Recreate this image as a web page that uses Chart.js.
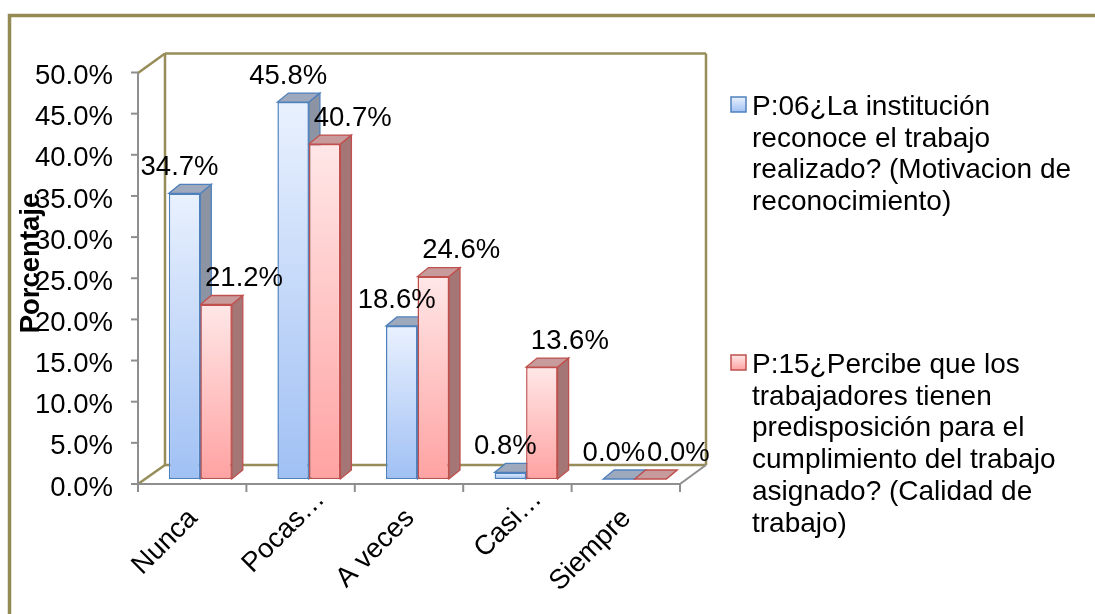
<!DOCTYPE html>
<html>
<head>
<meta charset="utf-8">
<script src="https://cdn.jsdelivr.net/npm/chart.js@4.4.0/dist/chart.umd.min.js"></script>
<style>
  html, body { margin: 0; padding: 0; background: #fff; }
  canvas { display: block; }
</style>
</head>
<body>
<canvas id="chart" width="1095" height="614"></canvas>
<script>
// data
var categories = ['Nunca', 'Pocas…', 'A veces', 'Casi…', 'Siempre'];
var p06Values = [34.7, 45.8, 18.6, 0.8, 0.0];
var p15Values = [21.2, 40.7, 24.6, 13.6, 0.0];
var p06Name = ['P:06¿La institución', 'reconoce el trabajo', 'realizado? (Motivacion de', 'reconocimiento)'];
var p15Name = ['P:15¿Percibe que los', 'trabajadores tienen', 'predisposición para el', 'cumplimiento del trabajo', 'asignado? (Calidad de', 'trabajo)'];
var yMin = 0, yMax = 50, yStep = 5;
var yTitle = 'Porcentaje';

// look
var fontFamily = '"Liberation Sans", Arial, sans-serif';
var fontSize = 27.5;
var olive = '#978d59';
var axisGray = '#8e8e8e';
var depthX = 11, depthY = -9;

var blueStyle = { border: '#4f81bd', light: '#e9f1fe', dark: '#a0c0f4', top: '#9ea9bd', side: '#8c94a3', labelShift: -5, legendY: 115 };
var redStyle = { border: '#c0504d', light: '#ffe7e7', dark: '#ffa2a2', top: '#c79b9b', side: '#a57676', labelShift: 28, legendY: 373 };

function barGradient(st) {
    return function (context) {
        var chart = context.chart;
        if (!chart.chartArea || context.type !== 'data') return st.dark;
        var y = chart.scales.y;
        var top = y.getPixelForValue(context.raw);
        var bottom = y.getPixelForValue(0);
        if (bottom - top < 1) return st.light;
        var g = chart.ctx.createLinearGradient(0, top, 0, bottom);
        g.addColorStop(0, st.light);
        g.addColorStop(1, st.dark);
        return g;
    };
}

function poly(ctx, pts, fill, stroke) {
    ctx.beginPath();
    ctx.moveTo(pts[0][0], pts[0][1]);
    for (var i = 1; i < pts.length; i++) ctx.lineTo(pts[i][0], pts[i][1]);
    ctx.closePath();
    ctx.fillStyle = fill;
    ctx.fill();
    ctx.strokeStyle = stroke;
    ctx.lineWidth = 1.3;
    ctx.stroke();
}

function line(ctx, x1, y1, x2, y2) {
    ctx.beginPath();
    ctx.moveTo(x1, y1);
    ctx.lineTo(x2, y2);
    ctx.stroke();
}

var styles = [blueStyle, redStyle];

var frame3d = {
    id: 'frame3d',
    beforeDraw: function (chart) {
        var ctx = chart.ctx;
        ctx.save();
        ctx.fillStyle = '#fff';
        ctx.fillRect(0, 0, chart.width, chart.height);
        ctx.strokeStyle = '#948a54';
        ctx.lineWidth = 3.5;
        ctx.strokeRect(9.5, 15.5, chart.width + 50, chart.height + 50);
        ctx.restore();
    },
    beforeDatasetsDraw: function (chart) {
        var ctx = chart.ctx, ca = chart.chartArea, ys = chart.scales.y;
        var fl = ca.left - 8, fr = ca.right - 9, ft = ca.top + 5.5, fb = ca.bottom + 5;
        var bl = ca.left + 19, br = ca.right + 17, bt = ca.top - 14, bb = ca.bottom - 14;
        ctx.save();
        // back walls and floor
        ctx.strokeStyle = olive;
        ctx.lineWidth = 2.5;
        line(ctx, bl, bt, bl, bb);
        line(ctx, bl, bt, br, bt);
        line(ctx, br, bt, br, bb);
        line(ctx, bl, bb, br, bb);
        line(ctx, fl, ft, bl, bt);
        line(ctx, fl, fb, bl, bb);
        // front axes
        ctx.strokeStyle = axisGray;
        ctx.lineWidth = 2;
        line(ctx, fl, ft, fl, fb);
        line(ctx, fl, fb, fr, fb);
        line(ctx, fr, fb, br, bb);
        ys.ticks.forEach(function (t) {
            var y = ys.getPixelForValue(t.value) + 5;
            line(ctx, fl - 7, y, fl, y);
        });
        for (var k = 0; k <= categories.length; k++) {
            var x = fl + (fr - fl) * k / categories.length;
            line(ctx, x, fb, x, fb + 8);
        }
        // top and side faces of the bars
        chart.data.datasets.forEach(function (ds, di) {
            var st = styles[di];
            chart.getDatasetMeta(di).data.forEach(function (bar) {
                var p = bar.getProps(['x', 'y', 'base', 'width'], true);
                var L = p.x - p.width / 2, R = p.x + p.width / 2, T = p.y, B = p.base;
                poly(ctx, [[R, T], [R + depthX, T + depthY], [R + depthX, B + depthY], [R, B]], st.side, st.border);
                poly(ctx, [[L, T], [R, T], [R + depthX, T + depthY], [L + depthX, T + depthY]], st.top, st.border);
            });
        });
        ctx.restore();
    },
    afterDatasetsDraw: function (chart) {
        var ctx = chart.ctx, ca = chart.chartArea;
        var fl = ca.left - 8, fr = ca.right - 9, fb = ca.bottom + 5;
        ctx.save();
        ctx.fillStyle = '#000';
        ctx.font = fontSize + 'px ' + fontFamily;
        // value labels
        ctx.textAlign = 'center';
        ctx.textBaseline = 'middle';
        chart.data.datasets.forEach(function (ds, di) {
            chart.getDatasetMeta(di).data.forEach(function (bar, i) {
                var p = bar.getProps(['x', 'y'], true);
                ctx.fillText(ds.data[i].toFixed(1) + '%', p.x + styles[di].labelShift, p.y - 26);
            });
        });
        // category labels on the front edge (shortened ones sit further along)
        ctx.textAlign = 'right';
        categories.forEach(function (c, i) {
            var x = fl + (fr - fl) * (i + 0.5) / categories.length;
            var along = c.indexOf('…') >= 0 ? 27 : 0;
            ctx.save();
            ctx.translate(x + 1, fb + 30);
            ctx.rotate(-Math.PI / 4);
            ctx.fillText(c, along, 0);
            ctx.restore();
        });
        // axis title
        ctx.save();
        ctx.font = 'bold ' + fontSize + 'px ' + fontFamily;
        ctx.textAlign = 'center';
        ctx.translate(31, 263);
        ctx.rotate(-Math.PI / 2);
        ctx.fillText(yTitle, 0, 0);
        ctx.restore();
        // legend
        ctx.font = '28px ' + fontFamily;
        ctx.textAlign = 'left';
        ctx.textBaseline = 'alphabetic';
        chart.data.datasets.forEach(function (ds, di) {
            var st = styles[di];
            var by = st.legendY - 18;
            var g = ctx.createLinearGradient(0, by, 0, by + 15);
            g.addColorStop(0, st.light);
            g.addColorStop(1, st.dark);
            ctx.fillStyle = g;
            ctx.fillRect(731, by, 15, 15);
            ctx.strokeStyle = st.border;
            ctx.lineWidth = 1.5;
            ctx.strokeRect(731, by, 15, 15);
            ctx.fillStyle = '#000';
            ds.label.forEach(function (ln, li) {
                ctx.fillText(ln, 752, st.legendY + li * 31.7);
            });
        });
        ctx.restore();
    }
};

var chart = new Chart(document.getElementById('chart').getContext('2d'), {
    type: 'bar',
    data: {
        labels: categories,
        datasets: [
            {
                label: p06Name,
                data: p06Values,
                backgroundColor: barGradient(blueStyle),
                borderColor: blueStyle.border,
                borderWidth: 1.5,
                borderSkipped: false,
                categoryPercentage: 0.58,
                barPercentage: 1.0
            },
            {
                label: p15Name,
                data: p15Values,
                backgroundColor: barGradient(redStyle),
                borderColor: redStyle.border,
                borderWidth: 1.5,
                borderSkipped: false,
                categoryPercentage: 0.58,
                barPercentage: 1.0
            }
        ]
    },
    options: {
        responsive: false,
        animation: false,
        devicePixelRatio: 1,
        layout: {
            padding: { top: 67.5, right: 406, bottom: 135, left: 0 }
        },
        scales: {
            x: {
                display: false,
                offset: true
            },
            y: {
                min: yMin,
                max: yMax,
                afterFit: function (scale) { scale.width = 146; },
                border: { display: false },
                grid: { display: false },
                ticks: {
                    stepSize: yStep,
                    padding: 25,
                    labelOffset: 9,
                    color: '#000',
                    font: { family: fontFamily, size: fontSize },
                    callback: function (v) { return v.toFixed(1) + '%'; }
                }
            }
        },
        plugins: {
            legend: { display: false },
            tooltip: { enabled: false }
        }
    },
    plugins: [frame3d]
});
</script>
</body>
</html>
